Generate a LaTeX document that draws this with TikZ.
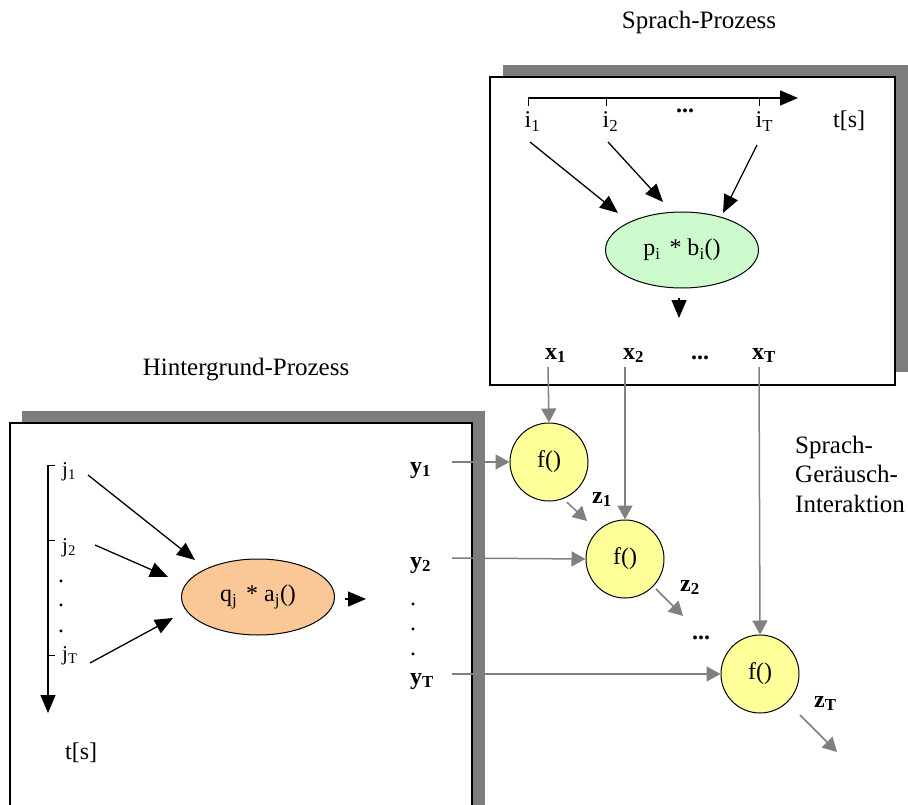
\documentclass[tikz,border=0pt]{standalone}
\usepackage{fontspec}
\setmainfont{Liberation Serif}
\usetikzlibrary{arrows.meta,shapes.geometric}
\definecolor{shadowgray}{RGB}{125,125,125}
\definecolor{linegray}{RGB}{128,128,128}
\definecolor{pgreen}{RGB}{204,250,204}
\definecolor{porange}{RGB}{250,200,150}
\definecolor{pyellow}{RGB}{255,255,153}
\tikzset{
  txt/.style={inner sep=0pt, font=\fontsize{24}{29}\selectfont},
  ttl/.style={inner sep=0pt, font=\fontsize{25}{29.5}\selectfont},
  jtxt/.style={inner sep=0pt, font=\fontsize{21}{25}\selectfont},
  bld/.style={inner sep=0pt, font=\fontsize{24}{29}\selectfont\bfseries},
  blk/.style={draw=black, line width=1.3pt, -{Triangle[length=18pt,width=15pt]}},
  garr/.style={draw=linegray, line width=1.5pt, -{Triangle[length=14pt,width=15pt]}, color=linegray},
  shadowbox/.style={fill=shadowgray},
  mainbox/.style={draw=black, line width=1.5pt, fill=white},
  fnode/.style={circle, draw=black, line width=1pt, fill=pyellow, minimum size=78pt, inner sep=0pt, font=\fontsize{24}{29}\selectfont},
  proc/.style={ellipse, draw=black, line width=1pt, inner sep=0pt, minimum width=153pt, minimum height=76pt, font=\fontsize{24}{29}\selectfont},
  tickline/.style={draw=black, line width=1pt}
}
\begin{document}
\begin{tikzpicture}[x=1pt,y=-1pt]
\clip (0,0) rectangle (908,805);
\fill[white] (0,0) rectangle (908,805);

% titles
\node[ttl] (sp) at (699,22) {Sprach-Prozess};
\node[ttl] (hp) at (246,370) {Hintergrund-Prozess};

% boxes
\fill[shadowbox] (503,65) rectangle (908,372);
\draw[mainbox] (490,77) rectangle (895,385);
\fill[shadowbox] (22,411) rectangle (485,820);
\draw[mainbox] (10,423) rectangle (472,830);

% ---------- top process ----------
\coordinate (ta) at (528,98);
\coordinate (tb) at (798,98);
\draw[blk] (ta) -- (tb);
\draw[tickline] (528,98) -- (528,106);
\draw[tickline] (606,98) -- (606,106);
\draw[tickline] (759,98) -- (759,106);
\node[txt, anchor=base west] (i1) at (524.5,128) {i\textsubscript{1}};
\node[txt, anchor=base west] (i2) at (602.5,128) {i\textsubscript{2}};
\node[txt, anchor=base west] (iT) at (755.5,128) {i\textsubscript{T}};
\node[bld, anchor=base] (idots) at (685,113) {...};
\node[txt, anchor=base west] (ts1) at (833,128) {t[s]};

\node[proc, fill=pgreen] (pe) at (682,250) {p\textsubscript{i}\hspace{9pt}* b\textsubscript{i}()};

\coordinate (i1s) at (530,142);
\coordinate (i2s) at (608,142);
\coordinate (iTs) at (757,145);
\coordinate (i1e) at (618,213);
\coordinate (i2e) at (663,202);
\coordinate (iTe) at (723,213);
\draw[blk] (i1s) -- (i1e);
\draw[blk] (i2s) -- (i2e);
\draw[blk] (iTs) -- (iTe);
\coordinate (pin) at (679,298);
\coordinate (pout) at (679,318);
\draw[blk] (pin) -- (pout);

\node[bld, anchor=base west] (x1) at (545,359) {x\textsubscript{1}};
\node[bld, anchor=base west] (x2) at (623,359) {x\textsubscript{2}};
\node[bld, anchor=base] (xdots) at (700,359) {...};
\node[bld, anchor=base west] (xT) at (752,359) {x\textsubscript{T}};

% ---------- left process ----------
\coordinate (la) at (48,465);
\coordinate (lb) at (48,713);
\draw[blk] (la) -- (lb);
\draw[tickline] (48,465) -- (55,465);
\draw[tickline] (48,540) -- (55,540);
\draw[tickline] (48,655) -- (55,655);
\node[jtxt, anchor=base west] (j1) at (62,476) {j\textsubscript{1}};
\node[jtxt, anchor=base west] (j2) at (62,552) {j\textsubscript{2}};
\node[jtxt, anchor=base west] (jT) at (62,660) {j\textsubscript{T}};
\node[txt, anchor=base] (jd1) at (61,582) {.};
\node[txt, anchor=base] (jd2) at (61,606) {.};
\node[txt, anchor=base] (jd3) at (61,632) {.};
\node[txt, anchor=base west] (ts2) at (65,759) {t[s]};

\node[proc, fill=porange] (qe) at (258,597) {q\textsubscript{j}\hspace{9pt}* a\textsubscript{j}()};

\coordinate (j1s) at (88,475);
\coordinate (j2s) at (95,545);
\coordinate (jTs) at (90,663);
\coordinate (j1e) at (195,560);
\coordinate (j2e) at (168,577);
\coordinate (jTe) at (173,618);
\draw[blk] (j1s) -- (j1e);
\draw[blk] (j2s) -- (j2e);
\draw[blk] (jTs) -- (jTe);
\coordinate (qs) at (345,599);
\coordinate (qout) at (366,599);
\draw[blk] (qs) -- (qout);

\node[bld, anchor=base west] (y1) at (410,473) {y\textsubscript{1}};
\node[bld, anchor=base west] (y2) at (410,568) {y\textsubscript{2}};
\node[txt, anchor=base] (yd1) at (413,605) {.};
\node[txt, anchor=base] (yd2) at (413,630) {.};
\node[txt, anchor=base] (yd3) at (413,655) {.};
\node[bld, anchor=base west] (yT) at (410,684) {y\textsubscript{T}};

% ---------- interaction ----------
\node[fnode] (f1) at (549,462) {f()};
\node[fnode] (f2) at (625,559) {f()};
\node[fnode] (f3) at (760,674) {f()};

\coordinate (x1s) at (548,367);
\coordinate (x2s) at (625,367);
\coordinate (xTs) at (759,367);
\draw[garr] (x1s) -- (f1.north);
\draw[garr] (x2s) -- (f2.north);
\draw[garr] (xTs) -- (f3.north);

\coordinate (y1s) at (452,462);
\coordinate (y2s) at (452,558);
\coordinate (yTs) at (452,674);
\draw[garr] (y1s) -- (f1.west);
\draw[garr] (y2s) -- (f2.west);
\draw[garr] (yTs) -- (f3.west);

\coordinate (z1e) at (587,521);
\coordinate (z2e) at (683,616);
\coordinate (zTe) at (837,752);
\draw[garr] (f1.-63) ++(0,5) -- (z1e);
\draw[garr] (f2.-45) ++(3,2) -- (z2e);
\draw[garr] (f3.-45) ++(12,13) -- (zTe);

\node[bld, anchor=base west] (z1) at (592,503) {z\textsubscript{1}};
\node[bld, anchor=base west] (z2) at (680,591) {z\textsubscript{2}};
\node[bld, anchor=base] (zdots) at (701,639) {...};
\node[bld, anchor=base west] (zT) at (814,707) {z\textsubscript{T}};

\node[ttl, anchor=base west, align=left] (sgi) at (795,512) {Sprach-\\Geräusch-\\Interaktion};
\end{tikzpicture}
\end{document}
